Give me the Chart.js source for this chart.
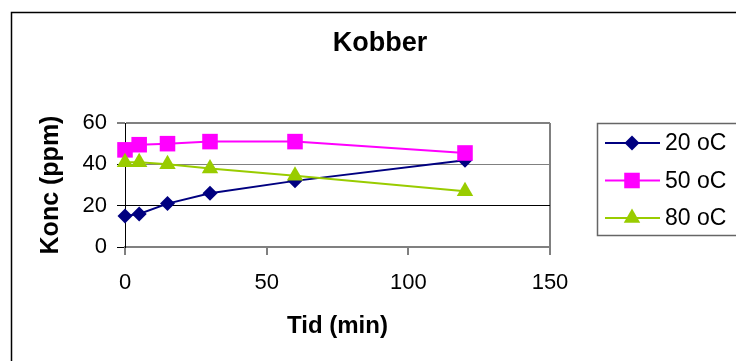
<!DOCTYPE html>
<html>
<head>
<meta charset="utf-8">
<script src="https://cdn.jsdelivr.net/npm/chart.js@4"></script>
<style>
html, body { margin: 0; padding: 0; background: #fff; }
</style>
</head>
<body>
<canvas id="myChart" width="736" height="361"></canvas>
<script>
const times = [0, 5, 15, 30, 60, 120];
const konc20 = [15, 16, 21, 26, 32, 42];
const konc50 = [47, 49.5, 50, 51, 51, 45.5];
const konc80 = [41, 41, 40, 38, 34.5, 27];
const seriesLabels = ['20 oC', '50 oC', '80 oC'];
const xTicks = [0, 50, 100, 150];
const yTicks = [0, 20, 40, 60];

const FONT = '"Liberation Sans", Arial, sans-serif';
Chart.defaults.font.family = FONT;
Chart.defaults.color = '#000';

function toPoints(values) {
    return times.map((t, i) => ({ x: t, y: values[i] }));
}

function drawMarker(c, style, r, x, y, color) {
    c.fillStyle = color;
    c.beginPath();
    if (style === 'rectRot') {
        c.moveTo(x - r, y); c.lineTo(x, y - r); c.lineTo(x + r, y); c.lineTo(x, y + r);
    } else if (style === 'rect') {
        const s = r * Math.SQRT1_2;
        c.rect(x - s, y - s, 2 * s, 2 * s);
    } else {
        c.moveTo(x, y - r);
        c.lineTo(x + r * Math.sin(2 * Math.PI / 3), y - r * Math.cos(2 * Math.PI / 3));
        c.lineTo(x + r * Math.sin(4 * Math.PI / 3), y - r * Math.cos(4 * Math.PI / 3));
    }
    c.closePath();
    c.fill();
}

// outer frame, title and legend in the old spreadsheet look
const decorations = {
    id: 'decorations',
    afterDraw(chart) {
        const c = chart.ctx;
        c.save();
        c.strokeStyle = '#000';
        c.lineWidth = 1.5;
        c.strokeRect(11.5, 12.5, 800, 400);

        c.font = 'bold 27px ' + FONT;
        c.fillStyle = '#000';
        c.textAlign = 'center';
        c.textBaseline = 'middle';
        c.fillText('Kobber', 380, 44);

        c.strokeStyle = '#666';
        c.lineWidth = 1.5;
        c.strokeRect(597.5, 123.5, 200, 112);
        c.font = '23px ' + FONT;
        c.textAlign = 'left';
        chart.data.datasets.forEach((ds, i) => {
            const y = 143 + i * 37.5;
            c.strokeStyle = ds.borderColor;
            c.lineWidth = 2;
            c.beginPath();
            c.moveTo(605, y);
            c.lineTo(660, y);
            c.stroke();
            drawMarker(c, ds.pointStyle, ds.pointRadius, 632, y, ds.backgroundColor);
            c.fillStyle = '#000';
            c.fillText(ds.label, 665, y + 1);
        });
        c.restore();
    }
};

const ctx = document.getElementById('myChart').getContext('2d');
const myChart = new Chart(ctx, {
    type: 'line',
    data: {
        datasets: [{
            label: seriesLabels[0],
            data: toPoints(konc20),
            borderColor: '#000080',
            backgroundColor: '#000080',
            pointStyle: 'rectRot',
            pointRadius: 7.5,
            order: 2
        }, {
            label: seriesLabels[1],
            data: toPoints(konc50),
            borderColor: '#FF00FF',
            backgroundColor: '#FF00FF',
            pointStyle: 'rect',
            pointRadius: 11,
            order: 1
        }, {
            label: seriesLabels[2],
            data: toPoints(konc80),
            borderColor: '#99CC00',
            backgroundColor: '#99CC00',
            pointStyle: 'triangle',
            pointRadius: 9.5,
            order: 0
        }]
    },
    options: {
        responsive: false,
        animation: false,
        layout: { padding: { top: 123, right: 186, left: 0, bottom: 0 } },
        elements: {
            line: { borderWidth: 2, tension: 0 },
            point: { borderWidth: 0, hoverRadius: 8 }
        },
        datasets: { line: { clip: false } },
        plugins: {
            legend: { display: false },
            title: { display: false },
            tooltip: { enabled: false }
        },
        scales: {
            x: {
                type: 'linear',
                min: 0,
                max: 150,
                afterBuildTicks: (scale) => { scale.ticks = xTicks.map(v => ({ value: v })); },
                afterFit: (scale) => { scale.height = 114; },
                ticks: { font: { size: 22 }, padding: 15, maxRotation: 0 },
                grid: {
                    drawOnChartArea: true,
                    color: (c) => c.tick && c.tick.value === 150 ? '#808080' : 'rgba(0,0,0,0)',
                    lineWidth: 2,
                    tickColor: '#000',
                    tickWidth: 1,
                    tickLength: 8
                },
                border: { color: '#808080', width: 2 },
                title: {
                    display: true,
                    text: 'Tid (min)',
                    font: { size: 24, weight: 'bold' },
                    padding: { top: 0, bottom: 20 }
                }
            },
            y: {
                min: 0,
                max: 60,
                afterBuildTicks: (scale) => { scale.ticks = yTicks.map(v => ({ value: v })); },
                afterFit: (scale) => { scale.width = 125; },
                ticks: { font: { size: 22 }, padding: 10 },
                grid: {
                    color: (c) => c.tick && c.tick.value === 20 ? '#000' : '#808080',
                    lineWidth: (c) => c.tick && c.tick.value === 60 ? 2 : 1,
                    tickColor: '#000',
                    tickWidth: 1,
                    tickLength: 8
                },
                border: { color: '#000', width: 1 },
                title: {
                    display: true,
                    text: 'Konc (ppm)',
                    font: { size: 25, weight: 'bold' },
                    padding: { top: 36, bottom: 0 }
                }
            }
        }
    },
    plugins: [decorations]
});
</script>
</body>
</html>
